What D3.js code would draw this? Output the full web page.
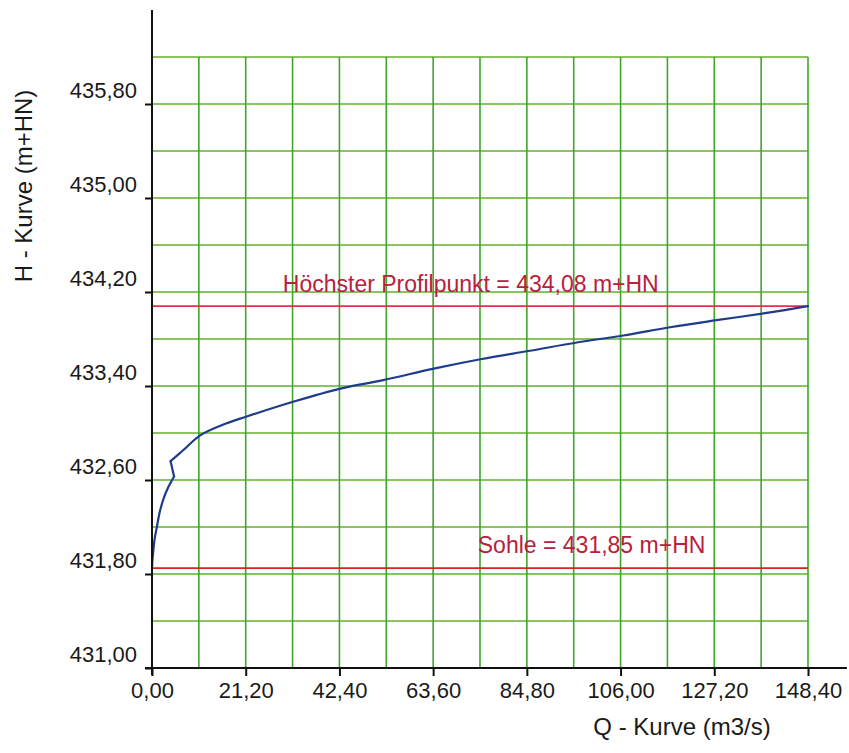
<!DOCTYPE html>
<html>
<head>
<meta charset="utf-8">
<script src="https://cdn.jsdelivr.net/npm/d3@7"></script>
<style>
  body { margin: 0; background: #fff; }
  #chart { width: 849px; height: 753px; }
  text { font-family: "Liberation Sans", Arial, sans-serif; }
</style>
</head>
<body>
<div id="chart"></div>
<script>
// Q (m3/s) and H (m+HN)
const qValues = [0, 0.1, 0.3, 0.6, 1.1, 1.7, 2.6, 3.7, 5.0, 4.2, 7.1, 10.9, 16.0, 21.4, 32.3, 42.9, 52.3, 64.0, 74.6, 85.5, 96.1, 106.6, 117.2, 127.7, 138.7, 148.4];
const hValues = [431.85, 431.92, 432.0, 432.1, 432.2, 432.32, 432.44, 432.54, 432.63, 432.76, 432.855, 432.98, 433.07, 433.14, 433.27, 433.38, 433.45, 433.55, 433.63, 433.70, 433.77, 433.83, 433.90, 433.96, 434.02, 434.08];

const xTicks = [0, 21.2, 42.4, 63.6, 84.8, 106.0, 127.2, 148.4];
const yTicks = [431.0, 431.8, 432.6, 433.4, 434.2, 435.0, 435.8];
const xGrid = d3.range(1, 15).map(i => i * 10.6);
const yGrid = d3.range(1, 14).map(i => 431 + i * 0.4);

const hoechster = 434.08;
const sohle = 431.85;

const width = 849, height = 753;
const svg = d3.select('#chart').append('svg')
    .attr('width', width)
    .attr('height', height)
    .style('display', 'block');

const x = d3.scaleLinear().domain([0, 148.4]).range([152, 808]);
const y = d3.scaleLinear().domain([431, 436.2]).range([668, 57]);

const de = d3.formatLocale({ decimal: ',', thousands: '.', grouping: [3], currency: ['', ' €'] });
const fmt = de.format('.2f');

// grid
const grid = svg.append('g');
grid.selectAll('line.h')
    .data(yGrid)
    .join('line')
    .attr('class', 'h')
    .attr('x1', x(0)).attr('x2', x(148.4))
    .attr('y1', d => y(d)).attr('y2', d => y(d))
    .attr('stroke', '#62b02a')
    .attr('stroke-width', 1.6);
grid.selectAll('line.v')
    .data(xGrid)
    .join('line')
    .attr('class', 'v')
    .attr('x1', d => x(d)).attr('x2', d => x(d))
    .attr('y1', y(431)).attr('y2', y(436.2))
    .attr('stroke', '#3fa52c')
    .attr('stroke-width', 1.6);

// reference lines
svg.append('line')
    .attr('x1', x(0)).attr('x2', x(148.4))
    .attr('y1', y(hoechster)).attr('y2', y(hoechster))
    .attr('stroke', '#e0304e').attr('stroke-width', 1.8);
svg.append('line')
    .attr('x1', x(0)).attr('x2', x(148.4))
    .attr('y1', y(sohle)).attr('y2', y(sohle))
    .attr('stroke', '#d42424').attr('stroke-width', 1.8);

svg.append('text')
    .attr('x', x(29.6)).attr('y', y(hoechster) - 14)
    .attr('font-size', 23)
    .attr('fill', '#b8203c')
    .text('Höchster Profilpunkt = 434,08 m+HN');
svg.append('text')
    .attr('x', x(73.7)).attr('y', y(sohle) - 15)
    .attr('font-size', 23)
    .attr('fill', '#b8203c')
    .text('Sohle = 431,85 m+HN');

// curve: smooth pieces, with the sharp kink around Q = 4-5 kept straight
const pts = qValues.map((q, i) => [x(q), y(hValues[i])]);
const smooth = d3.line().curve(d3.curveCatmullRom.alpha(0.5));
const straight = d3.line();
const kink = 8;
[
    [smooth, pts.slice(0, kink + 1)],
    [straight, pts.slice(kink, kink + 2)],
    [smooth, pts.slice(kink + 1)]
].forEach(([gen, seg]) => {
    svg.append('path')
        .attr('d', gen(seg))
        .attr('fill', 'none')
        .attr('stroke', '#1f3c8c')
        .attr('stroke-width', 2.2)
        .attr('stroke-linejoin', 'round')
        .attr('stroke-linecap', 'round');
});

// axes
const xAxis = svg.append('g')
    .attr('transform', `translate(0,${y(431)})`)
    .call(d3.axisBottom(x).tickValues(xTicks).tickFormat(fmt).tickSize(8).tickPadding(6));
const yAxis = svg.append('g')
    .attr('transform', `translate(${x(0)},0)`)
    .call(d3.axisLeft(y).tickValues(yTicks).tickFormat(fmt).tickSize(7).tickPadding(8));

[xAxis, yAxis].forEach(g => {
    g.select('.domain').remove();
    g.selectAll('line').attr('stroke', '#111').attr('stroke-width', 2);
    g.selectAll('text').attr('font-size', 22).attr('fill', '#1a1a1a')
        .style('font-family', '"Liberation Sans", Arial, sans-serif');
});
yAxis.selectAll('text').attr('y', -14);

// extended axis lines
svg.append('line')
    .attr('x1', x(-1.6)).attr('x2', x(157.2))
    .attr('y1', y(431)).attr('y2', y(431))
    .attr('stroke', '#111').attr('stroke-width', 2);
svg.append('line')
    .attr('x1', x(0)).attr('x2', x(0))
    .attr('y1', y(430.94)).attr('y2', y(436.6))
    .attr('stroke', '#111').attr('stroke-width', 2);

// axis titles
svg.append('text')
    .attr('x', 682).attr('y', 735)
    .attr('text-anchor', 'middle')
    .attr('font-size', 24)
    .attr('fill', '#1a1a1a')
    .text('Q - Kurve (m3/s)');
svg.append('text')
    .attr('transform', 'translate(32,186) rotate(-90)')
    .attr('text-anchor', 'middle')
    .attr('font-size', 24)
    .attr('fill', '#1a1a1a')
    .text('H - Kurve (m+HN)');
</script>
</body>
</html>
